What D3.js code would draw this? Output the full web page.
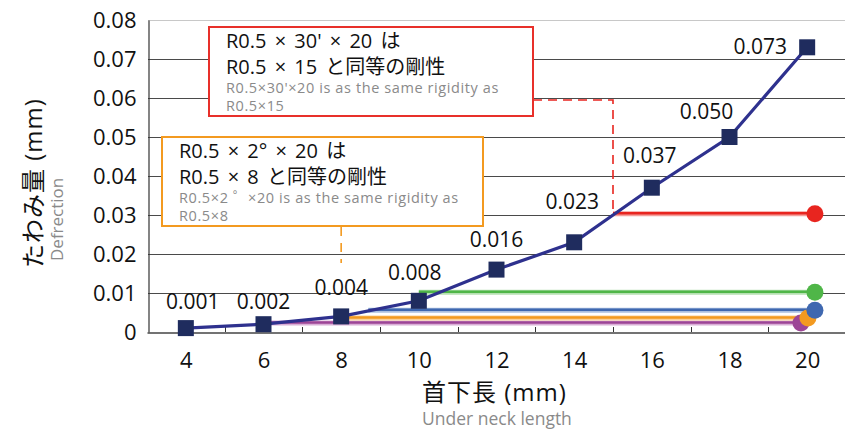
<!DOCTYPE html>
<html><head><meta charset="utf-8">
<script src="https://cdn.jsdelivr.net/npm/d3@7"></script>
<style>
html,body{margin:0;padding:0;background:#fff;}
svg{display:block;font-family:"Open Sans","Noto Sans CJK JP",sans-serif;}
svg text{font-weight:400;}
</style></head>
<body>
<svg id="c" width="845" height="429"></svg>
<script>
// ---- data ----
const lengths = [4, 6, 8, 10, 12, 14, 16, 18, 20];
const deflection = [0.001, 0.002, 0.004, 0.008, 0.016, 0.023, 0.037, 0.050, 0.073];
const valueLabels = ["0.001", "0.002", "0.004", "0.008", "0.016", "0.023", "0.037", "0.050", "0.073"];
const yTicks = [0, 0.01, 0.02, 0.03, 0.04, 0.05, 0.06, 0.07, 0.08];
const yTickLabels = ["0", "0.01", "0.02", "0.03", "0.04", "0.05", "0.06", "0.07", "0.08"];
const refNames = ["red", "green", "blue", "orange", "purple"];
const refValues = [0.0303, 0.0102, 0.0056, 0.0036, 0.0023];
const refStart = [15, 10, 8.7, 8, 6];
const refEnd = [20.2, 20.2, 20.2, 20.02, 19.84];
const refColors = ["#e8251f", "#4fb648", "#3f68b0", "#f39a20", "#9c4596"];
const refHalo = ["#f4a09c", "#b6e0b2", "#aabfe0", "#fad19a", "#d9afd6"];

// ---- layout ----
const FONT = "\"Open Sans\",\"Noto Sans CJK JP\",sans-serif";
const svg = d3.select("#c");
const x = d3.scaleLinear().domain([3, 21]).range([147, 846]);
const y = d3.scaleLinear().domain([0, 0.08]).range([332, 20]);
// label offsets (layout only)
const labelDx = [7, 0, 0, -4, 0, -2, -2, -23, -47];
const labelDy = [-19, -15, -21, -21, -23, -33, -25, -18, 7];

// gridlines
svg.append("g").selectAll("line").data(yTicks.slice(1)).join("line")
  .attr("x1", 148).attr("x2", 845)
  .attr("y1", d => Math.round(y(d)) + 0.5).attr("y2", d => Math.round(y(d)) + 0.5)
  .attr("stroke", (d, i) => i === yTicks.length - 2 ? "#c8c8c8" : "#4a4a4a").attr("stroke-width", 1);

// y axis
const yAxis = d3.axisLeft(y).tickValues(yTicks).tickFormat((d, i) => yTickLabels[i]).tickSize(0).tickPadding(12);
const gy = svg.append("g").attr("transform", "translate(148.5,0)").call(yAxis);
gy.select(".domain").attr("stroke", "#333").attr("stroke-width", 1.2);
gy.selectAll("text").attr("font-size", 22).attr("fill", "#111").attr("font-family", FONT);

// x axis
const xAxis = d3.axisBottom(x).tickValues(lengths).tickFormat(d => String(d)).tickSize(0).tickPadding(20);
const gx = svg.append("g").attr("transform", "translate(0,332.5)").call(xAxis);
gx.select(".domain").attr("stroke", "#444").attr("stroke-width", 1.5);
gx.selectAll("text").attr("font-size", 22).attr("fill", "#111").attr("font-family", FONT);
// inner ticks between categories
svg.append("g").selectAll("line").data(d3.range(5, 20, 2)).join("line")
  .attr("x1", d => Math.round(x(d)) + 0.5).attr("x2", d => Math.round(x(d)) + 0.5)
  .attr("y1", 332).attr("y2", 327).attr("stroke", "#333").attr("stroke-width", 1);

// axis titles
svg.append("text").attr("transform", "translate(42,268) rotate(-90)")
  .attr("font-size", 24).attr("letter-spacing", 1).attr("fill", "#111").text("たわみ量 (mm)");
svg.append("text").attr("transform", "translate(63,261) rotate(-90)")
  .attr("font-size", 17).attr("fill", "#8a8a8a").text("Defrection");
svg.append("text").attr("x", 422).attr("y", 401)
  .attr("font-size", 24).attr("letter-spacing", 1).attr("fill", "#111").text("首下長 (mm)");
svg.append("text").attr("x", 422).attr("y", 425)
  .attr("font-size", 17.5).attr("fill", "#8a8a8a").text("Under neck length");

// reference lines
const refIdx = d3.range(refValues.length).reverse();
const refG = svg.append("g");
refIdx.forEach(i => {
  refG.append("line").attr("x1", x(refStart[i])).attr("x2", x(refEnd[i]))
    .attr("y1", y(refValues[i])).attr("y2", y(refValues[i]))
    .attr("stroke", refHalo[i]).attr("stroke-width", 5);
  refG.append("line").attr("x1", x(refStart[i])).attr("x2", x(refEnd[i]))
    .attr("y1", y(refValues[i]) - 0.5).attr("y2", y(refValues[i]) - 0.5)
    .attr("stroke", refColors[i]).attr("stroke-width", 2.5);
});

// dashed connectors
svg.append("path")
  .attr("d", `M533,100 H${x(15)} V${y(refValues[0])}`)
  .attr("fill", "none").attr("stroke", "#e8251f").attr("stroke-width", 1.6)
  .attr("stroke-dasharray", "9,6");
svg.append("line").attr("x1", x(8)).attr("x2", x(8)).attr("y1", 227).attr("y2", 263)
  .attr("stroke", "#f39a20").attr("stroke-width", 1.6).attr("stroke-dasharray", "9,7");

// main line
const line = d3.line().x((d, i) => x(lengths[i])).y(d => y(d));
svg.append("path").datum(deflection).attr("d", line)
  .attr("fill", "none").attr("stroke", "#2e318e").attr("stroke-width", 3.2);
svg.append("g").selectAll("rect").data(deflection).join("rect")
  .attr("x", (d, i) => x(lengths[i]) - 8).attr("y", d => y(d) - 8)
  .attr("width", 16).attr("height", 16).attr("fill", "#1f2c5e");

// reference dots
refIdx.forEach(i => {
  svg.append("circle").attr("cx", x(refEnd[i])).attr("cy", y(refValues[i]))
    .attr("r", 8.5).attr("fill", refColors[i]);
});

// value labels
svg.append("g").selectAll("text").data(deflection).join("text")
  .attr("x", (d, i) => x(lengths[i]) + labelDx[i])
  .attr("y", (d, i) => y(d) + labelDy[i])
  .attr("text-anchor", "middle").attr("font-size", 21).attr("fill", "#111")
  .text((d, i) => valueLabels[i]);

// annotation boxes
function box(bx, by, bw, bh, col, lines1, lines2) {
  const g = svg.append("g");
  g.append("rect").attr("x", bx).attr("y", by).attr("width", bw).attr("height", bh)
    .attr("fill", "#fff").attr("stroke", col).attr("stroke-width", 2);
  lines1.forEach((t, k) => g.append("text").attr("x", bx + 17).attr("y", by + 21 + k * 26)
    .attr("font-size", 20).attr("word-spacing", 3).attr("fill", "#111").text(t));
  lines2.forEach((t, k) => g.append("text").attr("x", bx + 17).attr("y", by + 66 + k * 18)
    .attr("font-size", 14.5).attr("letter-spacing", 0.6).attr("fill", "#8a8a8a").text(t));
}
box(209, 27, 324, 89, "#e8302a",
  ["R0.5 × 30' × 20 は", "R0.5 × 15 と同等の剛性"],
  ["R0.5×30'×20 is as the same rigidity as", "R0.5×15"]);
box(162, 137, 321, 89, "#f39a20",
  ["R0.5 × 2° × 20 は", "R0.5 × 8 と同等の剛性"],
  ["R0.5×2 ゜×20 is as the same rigidity as", "R0.5×8"]);
</script>
</body></html>
